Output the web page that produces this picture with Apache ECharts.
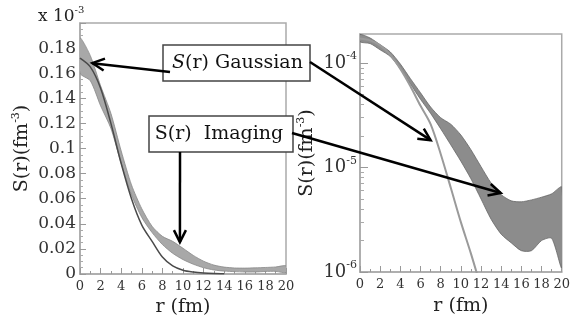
<!DOCTYPE html>
<html>
<head>
<meta charset="utf-8">
<script src="https://cdn.jsdelivr.net/npm/echarts@6/dist/echarts.min.js"></script>
<style>
html,body{margin:0;padding:0;background:#fff;}
#chart{width:573px;height:322px;}
</style>
</head>
<body>
<div id="chart"></div>
<script>
// r in fm; S(r) values in units of 1e-3 fm^-3
const r = [0,1,2,3,4,5,6,7,8,9,10,11,12,13,14,15,16,17,18,19,20];
const imagingUpper = [0.188,0.174,0.150,0.128,0.098,0.071,0.052,0.038,0.030,0.026,0.0205,0.0148,0.0102,0.0071,0.0055,0.0048,0.0047,0.0049,0.0052,0.0056,0.0065];
const imagingLower = [0.160,0.154,0.134,0.116,0.088,0.063,0.045,0.033,0.0235,0.0165,0.0115,0.0078,0.0050,0.0032,0.0023,0.0019,0.0016,0.0016,0.0020,0.0021,0.0011];
const gaussR = [0,1,2,3,4,5,6,7,8,9,10,11,12,13,14];
const gaussian = [0.172,0.165,0.148,0.120,0.088,0.060,0.039,0.026,0.0135,0.0064,0.0030,0.0015,0.0007,0.0003,0.00013];

const FONT = 'DejaVu Serif';
const chart = echarts.init(document.getElementById('chart'), null, {renderer:'canvas'});
const UNIT = 1e-3;
const logMax = 1.9e-4;

const minorLog = [];
[-6,-5,-4].forEach(n => { for (let k = 2; k <= 9; k++) { const v = Math.log10(k) + n; if (v < Math.log10(logMax)) minorLog.push(v); } });

const xAxisBase = (gi) => ({
  gridIndex: gi, type: 'value', min: 0, max: 20, interval: 2,
  axisLine: {onZero: false, lineStyle: {color: '#aaa', width: 1.5}},
  axisTick: {inside: true, length: 6, lineStyle: {color: '#999'}},
  minorTick: {show: true, splitNumber: 2, length: 3, lineStyle: {color: '#999'}},
  splitLine: {show: false},
  axisLabel: {fontFamily: FONT, fontSize: 13, color: '#333', margin: 6},
  name: 'r (fm)', nameLocation: 'middle', nameGap: 24,
  nameTextStyle: {fontFamily: FONT, fontSize: 19, color: '#222'}
});

const pairs = (xs, ys, k) => xs.map((x, i) => [x, ys[i] * k]);

function bandSeries(xi, yi, k, fill, stroke) {
  return {
    type: 'custom', xAxisIndex: xi, yAxisIndex: yi, clip: true, z: 2,
    data: r.map((x, i) => [x, imagingUpper[i] * k, imagingLower[i] * k]),
    encode: {x: 0, y: [1, 2]},
    renderItem: function (params, api) {
      if (params.dataIndex !== 0) return null;
      const pts = [];
      for (let i = 0; i < r.length; i++) pts.push(api.coord([r[i], imagingUpper[i] * k]));
      for (let i = r.length - 1; i >= 0; i--) pts.push(api.coord([r[i], imagingLower[i] * k]));
      return {type: 'polygon', shape: {points: pts, smooth: 0.25},
        style: {fill: fill, stroke: stroke, lineWidth: 0.8}};
    }
  };
}

chart.setOption({
  animation: false,
  grid: [
    {left: 80, top: 23, width: 206, height: 252, show: true, borderColor: '#aaa', borderWidth: 1.5},
    {left: 360, top: 34, width: 205, height: 238, show: true, borderColor: '#aaa', borderWidth: 1.5}
  ],
  xAxis: [xAxisBase(0), Object.assign(xAxisBase(1), {nameGap: 25})],
  yAxis: [
    {
      gridIndex: 0, type: 'value', min: 0, max: 0.2, interval: 0.02,
      axisLine: {lineStyle: {color: '#aaa', width: 1.5}},
      axisTick: {inside: true, length: 6, lineStyle: {color: '#999'}},
      minorTick: {show: true, splitNumber: 4, length: 3, lineStyle: {color: '#aaa'}},
      splitLine: {show: false},
      axisLabel: {fontFamily: FONT, fontSize: 17, color: '#333', margin: 4, showMaxLabel: false, padding: [0,0,12,0]},
      name: 'S(r)(fm{s|-3})', nameLocation: 'middle', nameGap: 44, nameRotate: 90,
      nameTextStyle: {fontFamily: FONT, fontSize: 19, color: '#222', lineHeight: 24,
        rich: {s: {fontFamily: FONT, fontSize: 11, color: '#222', verticalAlign: 'top', lineHeight: 12}}}
    },
    {
      gridIndex: 1, type: 'log', logBase: 10, min: 1e-6, max: logMax,
      axisLine: {lineStyle: {color: '#aaa', width: 1.5}},
      axisTick: {inside: true, length: 8, lineStyle: {color: '#999'}},
      splitLine: {show: false},
      axisLabel: {
        margin: 3, showMaxLabel: false,
        formatter: v => '{b|10}{s|' + Math.round(Math.log10(v)) + '}',
        rich: {
          b: {fontFamily: FONT, fontSize: 18, color: '#333', lineHeight: 24},
          s: {fontFamily: FONT, fontSize: 11, color: '#333', verticalAlign: 'top', lineHeight: 12}
        }
      },
      name: 'S(r)(fm{s|-3})', nameLocation: 'middle', nameGap: 37, nameRotate: 90,
      nameTextStyle: {fontFamily: FONT, fontSize: 19, color: '#222', lineHeight: 24,
        rich: {s: {fontFamily: FONT, fontSize: 11, color: '#222', verticalAlign: 'top', lineHeight: 12}}}
    },
    {
      gridIndex: 1, type: 'value', position: 'left', min: -6, max: Math.log10(logMax),
      axisLine: {show: false}, axisLabel: {show: false}, splitLine: {show: false},
      axisTick: {inside: true, length: 4, customValues: minorLog, lineStyle: {color: '#aaa'}}
    }
  ],
  series: [
    bandSeries(0, 0, 1, '#a8a8a8', '#888'),
    {type: 'line', xAxisIndex: 0, yAxisIndex: 0, data: pairs(gaussR, gaussian, 1),
      smooth: 0.3, symbol: 'none', lineStyle: {color: '#4a4a4a', width: 1.5}, z: 3},
    bandSeries(1, 1, UNIT, '#8c8c8c', '#666'),
    {type: 'line', xAxisIndex: 1, yAxisIndex: 1, data: pairs(gaussR, gaussian, UNIT),
      smooth: 0.3, symbol: 'none', lineStyle: {color: '#9a9a9a', width: 2}, z: 3}
  ]
});

// annotation anchors (data coordinates)
const tipGaussL = [1.2, 0.168];
const tipImgL = [9.7, 0.0254];
const tipGaussR = [7.0, 1.83e-5];
const tipImgR = [13.95, 5.7e-6];

const pL = v => chart.convertToPixel({xAxisIndex: 0, yAxisIndex: 0}, v);
const pR = v => chart.convertToPixel({xAxisIndex: 1, yAxisIndex: 1}, v);

function arrow(from, to) {
  const dx = to[0] - from[0], dy = to[1] - from[1];
  const L = Math.hypot(dx, dy), ux = dx / L, uy = dy / L;
  const len = 12, w = 6;
  const bx = to[0] - ux * len, by = to[1] - uy * len;
  return [
    {type: 'line', z: 100, shape: {x1: from[0], y1: from[1], x2: to[0], y2: to[1]}, style: {stroke: '#000', lineWidth: 2.5}},
    {type: 'polyline', z: 100, shape: {points: [[bx - uy * w, by + ux * w], to, [bx + uy * w, by - ux * w]]}, style: {stroke: '#000', lineWidth: 2.5, fill: null}}
  ];
}

const boxG = {x: 163, y: 45, w: 147, h: 36};
const boxI = {x: 149, y: 116, w: 144, h: 36};

const graphics = [
  {type: 'rect', z: 90, shape: {x: boxG.x, y: boxG.y, width: boxG.w, height: boxG.h}, style: {fill: '#fff', stroke: '#444', lineWidth: 1.5}},
  {type: 'rect', z: 90, shape: {x: boxI.x, y: boxI.y, width: boxI.w, height: boxI.h}, style: {fill: '#fff', stroke: '#444', lineWidth: 1.5}},
  {type: 'text', z: 95, x: boxG.x + boxG.w / 2 + 1, y: boxG.y + boxG.h / 2,
    style: {text: '{i|S}(r) Gaussian', fontFamily: FONT, fontSize: 19, fill: '#111', align: 'center', verticalAlign: 'middle',
      rich: {i: {fontFamily: FONT, fontSize: 19, fontStyle: 'italic', fill: '#111'}}}},
  {type: 'text', z: 95, x: boxI.x + boxI.w / 2 - 2, y: boxI.y + boxI.h / 2,
    style: {text: 'S(r)  Imaging', fontFamily: FONT, fontSize: 19, fill: '#111', align: 'center', verticalAlign: 'middle'}},
  {type: 'text', z: 95, x: 38, y: 17,
    style: {text: '{a|x 10}{s|-3}', align: 'left', verticalAlign: 'middle',
      rich: {a: {fontFamily: FONT, fontSize: 17, fill: '#222', lineHeight: 24},
             s: {fontFamily: FONT, fontSize: 10, fill: '#222', verticalAlign: 'top', lineHeight: 12}}}}
].concat(
  arrow([170, 72], pL(tipGaussL)),
  arrow([310, 62], pR(tipGaussR)),
  arrow([292, 133], pR(tipImgR)),
  arrow([180, 152], pL(tipImgL))
);

chart.setOption({graphic: graphics});
</script>
</body>
</html>
